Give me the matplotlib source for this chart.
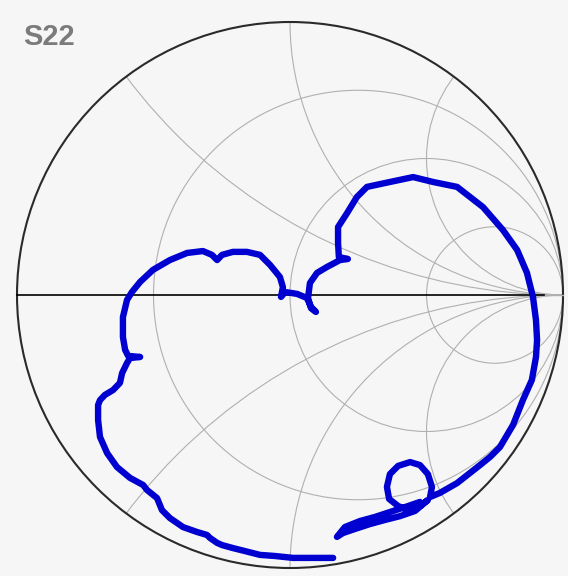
import numpy as np
import matplotlib
matplotlib.use("Agg")
import matplotlib.pyplot as plt
from matplotlib.patches import Circle

# ---- chart content ----
title = "S22"
r_circles = [1 / 3, 1.0, 3.0]                 # constant-resistance circles
x_arcs = [0.5, 1.0, 2.0, -0.5, -1.0, -2.0]    # constant-reactance arcs

gamma_re = [0.158, 0.073, 0.011, -0.055, -0.110, -0.165, -0.209, -0.249, -0.267, -0.293,
            -0.304, -0.341, -0.392, -0.440, -0.469, -0.487, -0.524, -0.538, -0.586, -0.634,
            -0.670, -0.696, -0.703, -0.703, -0.696, -0.678, -0.648, -0.623, -0.615, -0.597,
            -0.586, -0.549, -0.593, -0.604, -0.612, -0.612, -0.597, -0.579, -0.549, -0.502,
            -0.440, -0.377, -0.319, -0.286, -0.267, -0.249, -0.209, -0.158, -0.110, -0.073,
            -0.037, -0.026, -0.033, -0.018, 0.026, 0.062, 0.077, 0.095, 0.077, 0.066,
            0.073, 0.099, 0.136, 0.183, 0.212, 0.179, 0.176, 0.176, 0.209, 0.245,
            0.282, 0.366, 0.451, 0.524, 0.612, 0.707, 0.780, 0.832, 0.868, 0.890,
            0.901, 0.905, 0.901, 0.886, 0.853, 0.817, 0.769, 0.733, 0.696, 0.612,
            0.549, 0.513, 0.520, 0.505, 0.476, 0.440, 0.396, 0.366, 0.355, 0.363,
            0.396, 0.440, 0.476, 0.505, 0.458, 0.403, 0.348, 0.293, 0.238, 0.194,
            0.172, 0.201, 0.256, 0.311, 0.366, 0.421, 0.476]
gamma_im = [-0.963, -0.963, -0.963, -0.956, -0.952, -0.938, -0.927, -0.916, -0.908, -0.890,
            -0.879, -0.868, -0.850, -0.817, -0.788, -0.744, -0.714, -0.696, -0.670, -0.630,
            -0.579, -0.520, -0.458, -0.403, -0.385, -0.366, -0.348, -0.322, -0.286, -0.249,
            -0.231, -0.227, -0.223, -0.201, -0.154, -0.081, -0.018, 0.011, 0.048, 0.092,
            0.128, 0.154, 0.161, 0.147, 0.128, 0.147, 0.158, 0.158, 0.147, 0.110,
            0.066, 0.029, -0.007, 0.011, 0.004, -0.011, -0.044, -0.062, -0.048, -0.011,
            0.044, 0.081, 0.103, 0.128, 0.132, 0.139, 0.190, 0.249, 0.300, 0.359,
            0.396, 0.414, 0.432, 0.414, 0.396, 0.322, 0.238, 0.165, 0.081, -0.007,
            -0.092, -0.165, -0.227, -0.311, -0.385, -0.476, -0.557, -0.593, -0.623, -0.689,
            -0.725, -0.740, -0.703, -0.656, -0.623, -0.612, -0.626, -0.656, -0.703, -0.747,
            -0.773, -0.791, -0.773, -0.751, -0.791, -0.810, -0.824, -0.839, -0.857, -0.872,
            -0.886, -0.850, -0.828, -0.813, -0.795, -0.777, -0.758]

# ---- figure ----
bg = "#f6f6f6"
grid_col = "#b0b0b0"
fig = plt.figure(figsize=(5.68, 5.76), dpi=100)
fig.patch.set_facecolor(bg)
ax = fig.add_axes([0, 0, 1, 1])
ax.set_facecolor(bg)
ax.set_xlim(-1.0623, 1.0183)
ax.set_ylim(-1.0293, 1.0806)
ax.axis("off")

clip = Circle((0, 0), 1.0, transform=ax.transData)

for r in r_circles:
    c = Circle((r / (1 + r), 0), 1 / (1 + r), fill=False, ec=grid_col, lw=0.8)
    ax.add_patch(c)
    c.set_clip_path(clip)

for x in x_arcs:
    c = Circle((1, 1 / x), abs(1 / x), fill=False, ec=grid_col, lw=0.8)
    ax.add_patch(c)
    c.set_clip_path(clip)

ax.plot([0.93, 1.0], [0, 0], color=grid_col, lw=1.0)
ax.plot([-1.0, 0.93], [0, 0], color="black", lw=1.2)

ax.add_patch(Circle((0, 0), 1.0, fill=False, ec="#2a2a2a", lw=1.5))

ax.plot(gamma_re, gamma_im, color="#0000d0", lw=4.6,
        solid_joinstyle="round", solid_capstyle="round")

fig.text(23 / 568, 1 - 45 / 576, title, fontsize=21, fontweight="bold",
         color="#7b7b7b", family=["Liberation Sans", "DejaVu Sans"],
         ha="left", va="baseline")

fig.savefig("out.png", dpi=100, facecolor=bg)
